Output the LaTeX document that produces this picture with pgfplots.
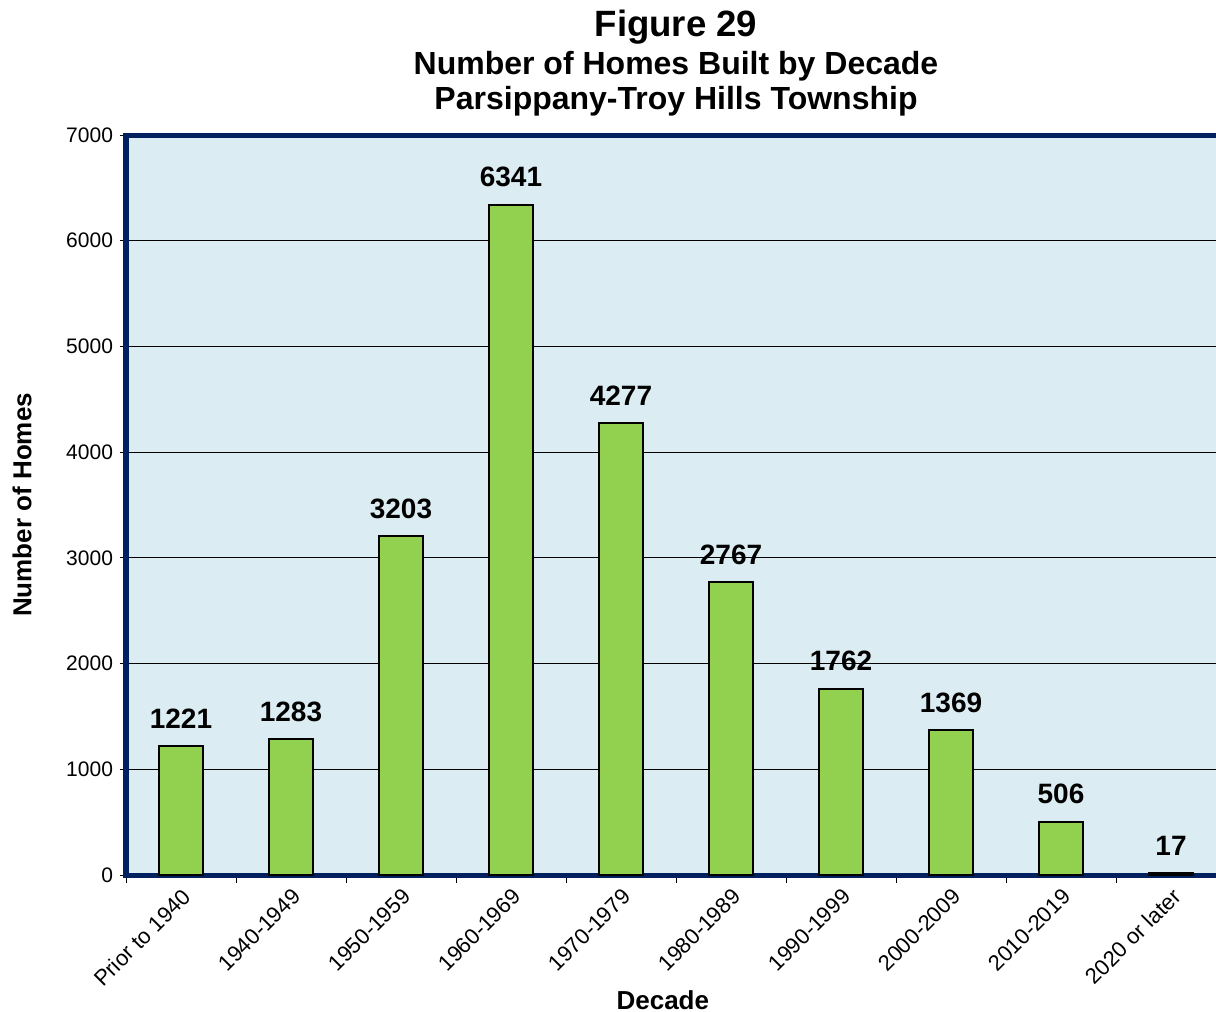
\documentclass[border=0pt]{standalone}
\usepackage{pgfplots}
\pgfplotsset{compat=1.18}
\usepackage{fontspec}
\setmainfont{Liberation Sans}
\definecolor{plotbg}{RGB}{219,237,243}
\definecolor{navy}{RGB}{0,32,96}
\definecolor{bargreen}{RGB}{146,208,80}
\begin{document}
\begin{tikzpicture}
\begin{axis}[
    at={(0,0)}, anchor=south west,
    scale only axis, width=550bp, height=370bp,
    ybar, bar width=22bp,
    xmin=-0.5, xmax=9.5, ymin=0, ymax=7000,
    xtick={0,...,9},
    xticklabels={Prior to 1940,1940-1949,1950-1959,1960-1969,1970-1979,1980-1989,1990-1999,2000-2009,2010-2019,2020 or later},
    major x tick style={draw=none},
    minor xtick={-0.5,0.5,...,9.5},
    minor x tick style={black, thin},
    minor tick length=4bp,
    xtick pos=bottom, ytick pos=left,
    ytick={0,1000,...,7000},
    major tick length=3bp,
    tick align=outside,
    y tick style={black, thin},
    ymajorgrids, grid style={black, line width=0.5bp},
    axis line style={navy, line width=2.5bp},
    axis background/.style={fill=plotbg},
    /pgf/number format/assume math mode=true,
    yticklabel style={font=\fontsize{10.5bp}{12bp}\selectfont},
    xticklabel style={font=\fontsize{11bp}{13bp}\selectfont, rotate=45, anchor=north east, inner sep=2bp},
    scaled y ticks=false,
    yticklabel={\pgfmathprintnumber[fixed,1000 sep={}]{\tick}},
    xlabel={\textbf{Decade}},
    ylabel={\textbf{Number of Homes}},
    xlabel style={font=\fontsize{13bp}{15bp}\selectfont, at={(axis description cs:0.488,-0.169)}, anchor=center},
    ylabel style={font=\fontsize{13bp}{15bp}\selectfont, at={(axis description cs:-0.0945,0.5)}, anchor=center, rotate=0},
    nodes near coords,
    nodes near coords style={font=\bfseries\fontsize{14bp}{16bp}\selectfont, black, yshift=5bp, /pgf/number format/assume math mode=true, /pgf/number format/1000 sep={}},
    clip=false,
]
\addplot[fill=bargreen, draw=black, line width=1bp] coordinates {
    (0,1221) (1,1283) (2,3203) (3,6341) (4,4277)
    (5,2767) (6,1762) (7,1369) (8,506) (9,17)
};
\end{axis}
\node[anchor=base, font=\bfseries\fontsize{18.3bp}{20bp}\selectfont] at (275bp,419bp) {Figure 29};
\node[anchor=base, font=\bfseries\fontsize{16bp}{18bp}\selectfont] at (275bp,400bp) {Number of Homes Built by Decade};
\node[anchor=base, font=\bfseries\fontsize{16bp}{18bp}\selectfont] at (275bp,382.5bp) {Parsippany-Troy Hills Township};
\pgfresetboundingbox
\path[use as bounding box] (-63bp,-68.5bp) rectangle (545bp,437.5bp);
\end{tikzpicture}
\end{document}
